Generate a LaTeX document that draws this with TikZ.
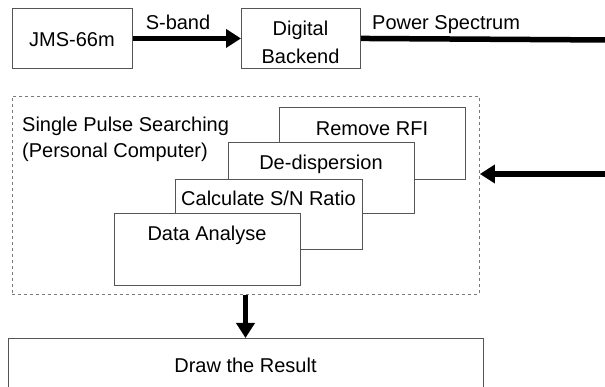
\documentclass[tikz,border=0pt]{standalone}
\usepackage{fontspec}
\setmainfont{Liberation Sans}
\usetikzlibrary{arrows.meta}
\definecolor{boxline}{HTML}{555555}
\definecolor{dashline}{HTML}{7A7A7A}
\begin{document}
\begin{tikzpicture}[x=1pt,y=-1pt,
  every node/.style={font=\fontsize{20}{28.5}\selectfont, inner sep=0pt},
  box/.style={draw=boxline, line width=0.9pt, fill=white, anchor=north west},
  lbl/.style={anchor=base},
  thick arrow/.style={line width=5.5pt, -{Triangle[length=15pt,width=18pt]}},
  thick line/.style={line width=5.5pt}]
\useasboundingbox (0,0) rectangle (605,387);
\fill[white] (0,0) rectangle (605,387);
% top row
\node[box, minimum width=120pt, minimum height=60pt] (jms) at (12,8) {};
\node[lbl] (jmst) at (72,47) {JMS-66m};
\node[box, minimum width=119pt, minimum height=60pt] (dig) at (241,8) {};
\node[lbl, align=center] (digt) at (300.5,64) {Digital\\Backend};
\node[lbl] (sband) at (178,30) {S-band};
\node[lbl, anchor=base west] (pspec) at (372,30) {Power Spectrum};
\coordinate (pend) at (610,40);
\draw[thick arrow] (jms.east) -- (dig.west);
\draw[thick line] (dig.east) -- (pend);
% dashed group
\node[draw=dashline, dashed, line width=0.9pt, minimum width=467pt, minimum height=198pt, anchor=north west] (grp) at (12,96) {};
\node[anchor=base west] (sps1) at (22,132) {Single Pulse Searching};
\node[anchor=base west] (sps2) at (22,158) {(Personal Computer)};
% stacked boxes
\node[box, minimum width=186pt, minimum height=72pt] (rfi) at (279,107) {};
\node[lbl] (rfit) at (372,136) {Remove RFI};
\node[box, minimum width=186pt, minimum height=71pt] (dd) at (228,142) {};
\node[lbl] (ddt) at (321,170) {De-dispersion};
\node[box, minimum width=187pt, minimum height=70pt] (snr) at (175,179) {};
\node[lbl] (snrt) at (268.5,206) {Calculate S/N Ratio};
\node[box, minimum width=186pt, minimum height=72pt] (da) at (114,213) {};
\node[lbl] (dat) at (207,241) {Data Analyse};
% right incoming arrow
\coordinate (rin) at (610,174);
\draw[thick arrow] (rin) -- (grp.east |- rin);
% result box
\node[box, minimum width=475pt, minimum height=60pt] (res) at (8,338) {};
\node[lbl] (rest) at (245.5,372) {Draw the Result};
\draw[thick arrow] (grp.south -| rest) -- (res.north -| rest);
\end{tikzpicture}
\end{document}
